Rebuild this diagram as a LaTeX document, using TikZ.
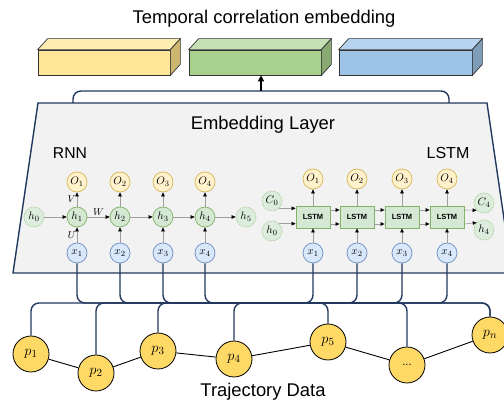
\documentclass[tikz,border=0pt]{standalone}
\usepackage{fontspec}
\setmainfont{Liberation Sans}
\usetikzlibrary{arrows.meta,calc}

\definecolor{navy}{HTML}{22385E}
\definecolor{layer}{HTML}{F2F2F2}
\definecolor{ofill}{HTML}{FFF2CC}
\definecolor{odraw}{HTML}{D6B656}
\definecolor{hfill}{HTML}{D5E8D4}
\definecolor{hdraw}{HTML}{82B366}
\definecolor{xfill}{HTML}{DAE8FC}
\definecolor{xdraw}{HTML}{6C8EBF}
\definecolor{pfill}{HTML}{FFD966}
\definecolor{yfront}{HTML}{FFE699}
\definecolor{ytop}{HTML}{FFEDB0}
\definecolor{yside}{HTML}{CDB670}
\definecolor{gfront}{HTML}{A9D18E}
\definecolor{gtop}{HTML}{C5E0B4}
\definecolor{gside}{HTML}{88A874}
\definecolor{bfront}{HTML}{9DC3E6}
\definecolor{btop}{HTML}{B6D4EF}
\definecolor{bside}{HTML}{7F9CB9}

\tikzset{
  circ/.style={circle, minimum size=20pt, inner sep=0pt, line width=0.7pt, font=\fontsize{11}{12}\selectfont},
  ocirc/.style={circ, fill=ofill, draw=odraw},
  hcirc/.style={circ, fill=hfill, draw=hdraw},
  hfade/.style={circ, fill=hfill!80, draw=hdraw!60, dash pattern=on 2pt off 1pt},
  xcirc/.style={circ, fill=xfill, draw=xdraw},
  cell/.style={rectangle, minimum width=34pt, minimum height=22pt, inner sep=0pt, fill=hfill, draw=hdraw, line width=0.8pt, font=\fontsize{7.5}{8}\selectfont\bfseries},
  pnode/.style={circle, minimum size=36pt, inner sep=0pt, fill=pfill, draw=black, line width=0.8pt, font=\fontsize{15}{16}\selectfont},
  cube/.style={rectangle, minimum height=25pt, inner sep=0pt, draw=black!80, line width=0.7pt},
  flow/.style={draw=gray!75, line width=0.6pt, -{Triangle[black,length=4pt,width=3.5pt]}},
  bus/.style={draw=navy, line width=1.4pt, rounded corners=8pt},
  big/.style={font=\fontsize{18.4}{22}\selectfont},
}

\begin{document}
\begin{tikzpicture}[x=1pt, y=-1pt]
\useasboundingbox (0,0) rectangle (504,403);
\clip (0,0) rectangle (504,403);

% output embedding
\node [big] (title) at (264,19) {Temporal correlation embedding};
\node [cube, fill=yfront, minimum width=132pt] (yel) at (104,62.5) {};
\node [cube, fill=gfront, minimum width=132pt] (grn) at (255,62.5) {};
\node [cube, fill=bfront, minimum width=133pt] (blu) at (405.5,62.5) {};
\foreach \n/\c in {yel/y,grn/g,blu/b} {
  \filldraw [fill=\c top, draw=black!80, line width=0.7pt] (\n.north west) -- ++(10,-11) -- ($(\n.north east)+(10,-11)$) -- (\n.north east) -- cycle;
  \filldraw [fill=\c side, draw=black!80, line width=0.7pt] (\n.north east) -- ++(10,-11) -- ($(\n.south east)+(10,-11)$) -- (\n.south east) -- cycle;
}

% embedding layer
\filldraw [fill=layer, draw=navy, line width=1.4pt] (38,103) -- (487,103) -- (512,273) -- (13,273) -- cycle;
\coordinate (brk) at (261,91);
\draw [bus] (73,103) |- (brk) -| (449,103);
\draw [draw=black, line width=1.2pt, -{Triangle[length=6pt,width=6pt]}] (brk) -- (brk |- grn.south);
\node [big] (emb) at (263,125) {Embedding Layer};
\node [font=\fontsize{15.7}{18}\selectfont] (rnn) at (70,153) {RNN};
\node [font=\fontsize{16}{18}\selectfont] (lstm) at (448,153) {LSTM};

% RNN
\foreach \i/\x in {1/77,2/120,3/163,4/205} {
  \node [ocirc] (ro\i) at (\x,182) {$O_{\i}$};
  \node [hcirc] (rh\i) at (\x,217) {$h_{\i}$};
  \node [xcirc] (rx\i) at (\x,253) {$x_{\i}$};
}
\node [hfade] (rh0) at (34,217) {$h_0$};
\node [hfade] (rh5) at (246,217) {$h_5$};
\draw [flow] (rx1) -- (rh1) node [midway, left, font=\fontsize{10}{11}\selectfont, inner sep=1pt] {$U$};
\draw [flow] (rh1) -- (ro1) node [pos=0.55, left, font=\fontsize{10}{11}\selectfont, inner sep=1pt] {$V$};
\draw [flow] (rh1) -- (rh2) node [midway, above, font=\fontsize{10}{11}\selectfont, inner sep=1.5pt] {$W$};
\foreach \i in {2,3,4} {
  \draw [flow] (rx\i) -- (rh\i);
  \draw [flow] (rh\i) -- (ro\i);
}
\foreach \a/\b in {rh0/rh1,rh2/rh3,rh3/rh4,rh4/rh5}
  \draw [flow] (\a) -- (\b);

% LSTM
\foreach \i/\x in {1/313,2/357,3/402,4/447} {
  \node [ocirc] (lo\i) at (\x,179) {$O_{\i}$};
  \node [cell] (lb\i) at (\x,217) {LSTM};
  \node [xcirc] (lx\i) at (\x,253) {$x_{\i}$};
  \draw [flow] (lx\i) -- (lb\i);
  \draw [flow] (lb\i) -- (lo\i);
}
\node [hfade] (lc0) at (272,201) {$C_0$};
\node [hfade] (lh0) at (272,231) {$h_0$};
\node [hfade] (lc4) at (484,203) {$C_4$};
\node [hfade] (lh4) at (484,230) {$h_4$};
\draw [flow] (lc0.-45) -- (lc0.-45 -| lb1.west);
\draw [flow] (lh0.45) -- (lh0.45 -| lb1.west);
\foreach \a/\b in {lb1/lb2,lb2/lb3,lb3/lb4} {
  \draw [flow] ([yshift=7pt]\a.east) -- ([yshift=7pt]\b.west);
  \draw [flow] ([yshift=-7pt]\a.east) -- ([yshift=-7pt]\b.west);
}
\draw [flow] ([yshift=7pt]lb4.east) -- (lc4.225);
\draw [flow] ([yshift=-7pt]lb4.east) -- (lh4.135);

% trajectory
\node [pnode] (p1) at (31,354) {$p_1$};
\node [pnode] (p2) at (96,373) {$p_2$};
\node [pnode] (p3) at (158,351) {$p_3$};
\node [pnode] (p4) at (234,359) {$p_4$};
\node [pnode] (p5) at (328,342) {$p_5$};
\node [pnode, font=\fontsize{11}{12}\selectfont] (pd) at (407,365) {...};
\node [pnode] (pn) at (490,335) {$p_n$};
\node [big] (traj) at (263,392) {Trajectory Data};
\foreach \a/\b in {p1/p2,p2/p3,p3/p4,p4/p5,p5/pd,pd/pn}
  \draw [line width=0.9pt] (\a) -- (\b);

\coordinate (bus) at (0,303);
\foreach \a/\b in {p1/lx1,p2/lx2,p3/lx3,p4/lx4,p5/rx1,pd/rx2,pn/rx3,pn/rx4}
  \draw [bus] (\a.north) |- (bus -| \b.south) -- (\b.south);
\end{tikzpicture}
\end{document}
